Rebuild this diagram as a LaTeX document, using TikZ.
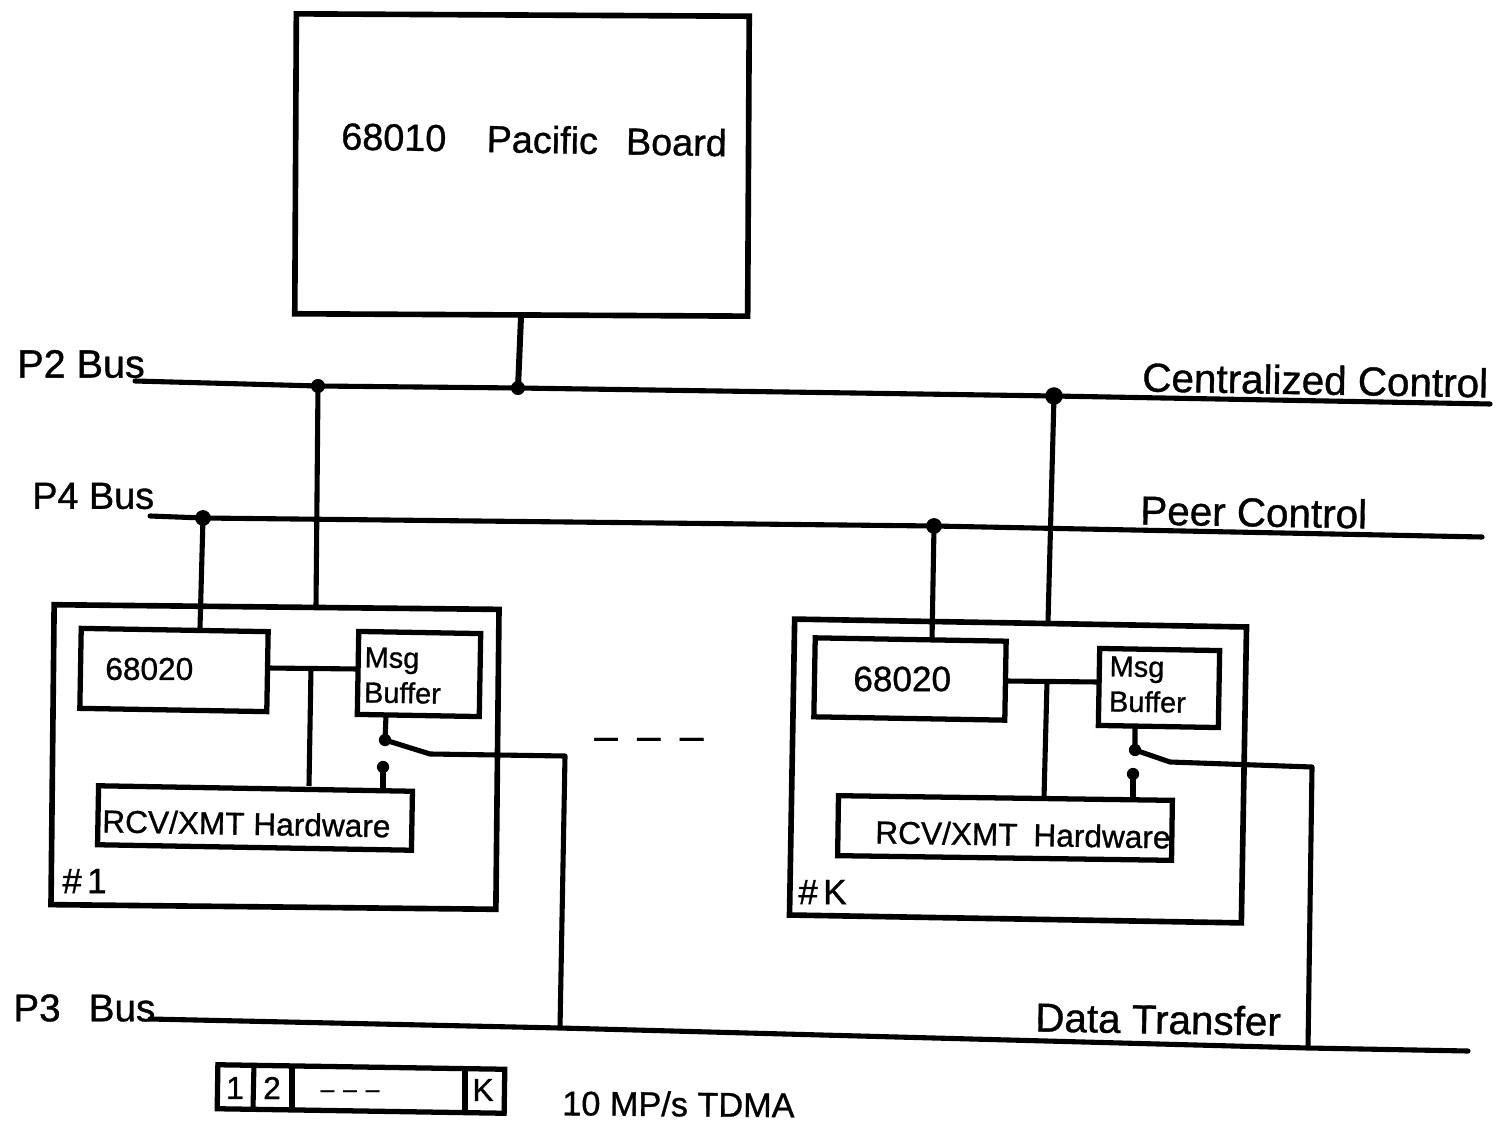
\documentclass[tikz,border=0pt]{standalone}
\usepackage{fontspec}
\setmainfont[FakeBold=0.9]{Liberation Sans}
\tikzset{
  box/.style={draw=black,line width=3pt,fill=none,inner sep=0pt,transform shape=false},
  bigbox/.style={box,line width=3.2pt},
  smallbox/.style={box,line width=3pt},
  bus/.style={line width=2.9pt,line cap=round},
  wire/.style={line width=2.9pt,line join=round},
  joint/.style={circle,fill=black,draw=none,inner sep=0pt,minimum size=#1},
  joint/.default=8pt,
  lab/.style={inner sep=0pt,anchor=west,text=black},
  big/.style={lab,font=\fontsize{23}{23}\selectfont},
  mid/.style={lab,font=\fontsize{18}{18}\selectfont},
  tiny/.style={lab,font=\fontsize{16.5}{20}\selectfont}
}
\begin{document}
\begin{tikzpicture}[x=0.02cm,y=-0.02cm]
\useasboundingbox (0,0) rectangle (1503,1124);
\fill[white] (0,0) rectangle (1503,1124);

% boxes
\node[bigbox,minimum width=9.06cm,minimum height=6cm,rotate=-0.3] (board) at (522,165) {};
\node[bigbox,minimum width=8.9cm,minimum height=6cm,rotate=-0.6] (card1) at (275,757) {};
\node[bigbox,minimum width=9.04cm,minimum height=5.92cm,rotate=-1] (cardk) at (1018,771) {};
\node[smallbox,minimum width=3.74cm,minimum height=1.6cm,rotate=-1] (cpu1) at (174,670) {};
\node[smallbox,minimum width=2.44cm,minimum height=1.66cm,rotate=-1] (msg1) at (419,674) {};
\node[smallbox,minimum width=6.28cm,minimum height=1.18cm,rotate=-1] (rcv1) at (255,818) {};
\node[smallbox,minimum width=3.82cm,minimum height=1.58cm,rotate=-1] (cpuk) at (910,679) {};
\node[smallbox,minimum width=2.4cm,minimum height=1.54cm,rotate=-1] (msgk) at (1159,688) {};
\node[smallbox,minimum width=6.68cm,minimum height=1.2cm,rotate=-0.8] (rcvk) at (1005,828) {};
\node[smallbox,minimum width=5.74cm,minimum height=0.88cm,rotate=-0.9] (frame) at (361,1089) {};

% buses
\coordinate (p2a) at (135,381);
\coordinate (p2b) at (1490,404);
\coordinate (p4a) at (150,516);
\coordinate (p4b) at (1482,537);
\coordinate (p3a) at (150,1019);
\coordinate (p3b) at (1468,1051);
\node[joint] (j2a) at (318,386) {};
\node[joint] (j2b) at (518,388) {};
\node[joint=10pt] (j2c) at (1054,396) {};
\node[joint=9pt] (j4a) at (203,518) {};
\node[joint=9pt] (j4b) at (934,526) {};
\coordinate (j3a) at (560,1028);
\coordinate (j3b) at (1308,1048);
\draw[bus] (p2a) -- (j2a.center) -- (j2b.center) -- (j2c.center) -- (p2b);
\draw[bus] (p4a) -- (j4a.center) -- (j4b.center) -- (p4b);
\draw[bus] (p3a) -- (j3a) -- (j3b) -- (p3b);

% bus drops
\coordinate (boardb) at (521,317);
\coordinate (card1t) at (316,607);
\coordinate (cpu1t) at (200,628);
\coordinate (cardkt) at (1048,622);
\coordinate (cpukt) at (932,640);
\draw[wire,line width=3.4pt] (boardb) -- (j2b.center);
\draw[wire] (j2a.center) -- (card1t);
\draw[wire] (j4a.center) -- (cpu1t);
\draw[wire] (j2c.center) -- (cardkt);
\draw[wire] (j4b.center) -- (cpukt);

% card 1 wiring
\coordinate (cpu1r) at (268,668);
\coordinate (msg1l) at (358,669);
\coordinate (t1) at (311,668);
\coordinate (rcv1t) at (309,786);
\coordinate (msg1b) at (386,716);
\node[joint=7pt] (sw1) at (385,740) {};
\node[joint=7pt] (sw1r) at (383,767) {};
\coordinate (rcv1s) at (383,788);
\coordinate (b1a) at (430,754);
\coordinate (b1b) at (565,756);
\draw[wire] (cpu1r) -- (msg1l);
\draw[wire] (t1) -- (rcv1t);
\draw[wire] (msg1b) -- (sw1.center) -- (b1a) -- (b1b) -- (j3a);
\draw[wire] (sw1r.center) -- (rcv1s);

% card K wiring
\coordinate (cpukr) at (1006,681);
\coordinate (msgkl) at (1098,682);
\coordinate (tk) at (1047,682);
\coordinate (rcvkt) at (1044,798);
\coordinate (msgkb) at (1135,727);
\node[joint=7pt] (swk) at (1135,750) {};
\node[joint=7pt] (swkr) at (1133,774) {};
\coordinate (rcvks) at (1133,800);
\coordinate (bka) at (1170,762);
\coordinate (bkb) at (1312,767);
\draw[wire] (cpukr) -- (msgkl);
\draw[wire] (tk) -- (rcvkt);
\draw[wire] (msgkb) -- (swk.center) -- (bka) -- (bkb) -- (j3b);
\draw[wire] (swkr.center) -- (rcvks);

% frame dividers
\coordinate (d1a) at (254,1063); \coordinate (d1b) at (253,1109);
\coordinate (d2a) at (292,1064); \coordinate (d2b) at (292,1110);
\coordinate (d3a) at (465,1069); \coordinate (d3b) at (465,1113);
\draw[wire] (d1a) -- (d1b);
\draw[wire] (d2a) -- (d2b);
\draw[wire] (d3a) -- (d3b);

% labels
\node[big,font=\fontsize{21.5}{23}\selectfont,rotate=-1] (tboard) at (341,136) {68010\hspace{23pt}Pacific\hspace{16pt}Board};
\node[big,font=\fontsize{22.5}{23}\selectfont] (tp2) at (17,364) {P2 Bus};
\node[big,font=\fontsize{21.5}{23}\selectfont] (tp4) at (32,496) {P4 Bus};
\node[big,font=\fontsize{22}{23}\selectfont] (tp3) at (13,1008) {P3\hspace{16pt}Bus};
\node[big,rotate=-1] (tcc) at (1142,377) {Centralized Control};
\node[big,rotate=-1] (tpc) at (1140,510) {Peer Control};
\node[big,rotate=-1] (tdt) at (1035,1017) {Data Transfer};
\node[mid] (tc1) at (105,669) {68020};
\node[mid,font=\fontsize{20}{20}\selectfont] (tck) at (853,679) {68020};
\node[tiny,align=left,rotate=-1] (tm1) at (364,675) {Msg\\Buffer};
\node[tiny,align=left,rotate=-1] (tmk) at (1109,684) {Msg\\Buffer};
\node[mid,rotate=-1] (tr1) at (102,821) {RCV/XMT Hardware};
\node[mid,rotate=-1] (trk) at (875,832) {RCV/XMT\hspace{9pt}Hardware};
\node[mid,font=\fontsize{20}{20}\selectfont] (tn1) at (62,881) {\#\hspace{3pt}1};
\node[mid,font=\fontsize{20}{20}\selectfont] (tnk) at (798,892) {\#\hspace{3pt}K};
\node[big,font=\fontsize{24}{24}\selectfont] (tgap) at (594,744) {–\hspace{11pt}–\hspace{11pt}–};
\node[mid,anchor=center] (tf1) at (235,1088) {1};
\node[mid,anchor=center] (tf2) at (272,1088) {2};
\node[mid,anchor=center,font=\fontsize{14}{14}\selectfont] (tf3) at (350,1094) {–\hspace{5pt}–\hspace{5pt}–};
\node[mid,anchor=center] (tfk) at (483,1090) {K};
\node[mid,font=\fontsize{19.5}{20}\selectfont,rotate=-0.5] (trate) at (562,1103) {10 MP/s TDMA};
\end{tikzpicture}
\end{document}
